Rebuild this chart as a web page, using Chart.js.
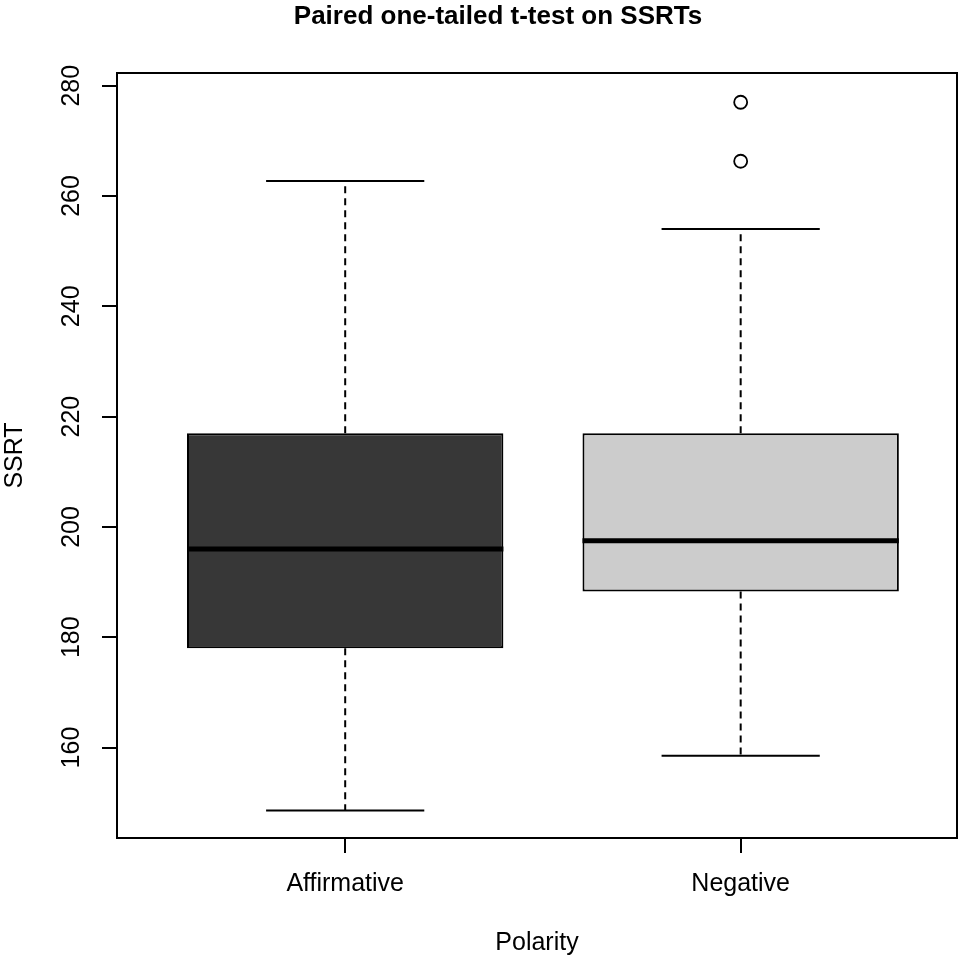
<!DOCTYPE html>
<html>
<head>
<meta charset="utf-8">
<script src="https://cdn.jsdelivr.net/npm/chart.js@4.4.1/dist/chart.umd.min.js"></script>
<style>
html, body { margin: 0; padding: 0; background: #fff; }
canvas { display: block; }
</style>
</head>
<body>
<canvas id="myChart" width="973" height="960"></canvas>
<script>
// box statistics
const categories = ['Affirmative', 'Negative'];
const whiskerLow = [148.6, 158.5];
const lowerQuartile = [178.0, 188.3];
const medians = [196.0, 197.5];
const upperQuartile = [217.0, 217.0];
const whiskerHigh = [262.7, 254.0];
const outliers = [[], [266.3, 277.0]];
const yTicks = [160, 180, 200, 220, 240, 260, 280];
const boxColors = ['#373737', '#cccccc'];

const FONT = "'Liberation Sans', Arial, Helvetica, sans-serif";
const boxHalf = 0.4, capHalf = 0.2;

// boxes sit at 1..n like R's boxplot
var boxes = [], stems = [], caps = [], meds = [], outs = [];
categories.forEach(function (c, i) {
     var x = i + 1;
     boxes.push({ x: x, y: [lowerQuartile[i], upperQuartile[i]] });
     stems.push({ x: x, y: upperQuartile[i] }, { x: x, y: whiskerHigh[i] }, { x: x, y: null },
          { x: x, y: lowerQuartile[i] }, { x: x, y: whiskerLow[i] }, { x: x, y: null });
     caps.push({ x: x - capHalf, y: whiskerHigh[i] }, { x: x + capHalf, y: whiskerHigh[i] }, { x: x, y: null },
          { x: x - capHalf, y: whiskerLow[i] }, { x: x + capHalf, y: whiskerLow[i] }, { x: x, y: null });
     meds.push({ x: x - boxHalf, y: medians[i] }, { x: x + boxHalf, y: medians[i] }, { x: x, y: null });
     outliers[i].forEach(function (v) { outs.push({ x: x, y: v }); });
});

const framePlugin = {
     id: 'frame',
     afterDatasetsDraw(chart) {
          const a = chart.chartArea, ctx = chart.ctx;
          ctx.save();
          ctx.strokeStyle = '#000';
          ctx.lineWidth = 2;
          ctx.strokeRect(a.left, a.top, a.right - a.left, a.bottom - a.top);
          ctx.restore();
     }
};

const titlePlugin = {
     id: 'rtitle',
     afterDraw(chart) {
          const ctx = chart.ctx;
          ctx.save();
          ctx.font = 'bold 26px ' + FONT;
          ctx.fillStyle = '#000';
          ctx.textAlign = 'center';
          ctx.textBaseline = 'alphabetic';
          ctx.fillText('Paired one-tailed t-test on SSRTs', 498, 23.5);
          ctx.restore();
     }
};

new Chart('myChart', {
     type: 'bar',
     data: {
          datasets: [
               {
                    type: 'line', data: outs, showLine: false, order: 0,
                    pointRadius: 6.5, pointBorderWidth: 1.8,
                    pointBackgroundColor: '#fff', pointBorderColor: '#000'
               },
               {
                    type: 'line', data: meds, order: 1, borderColor: '#000',
                    borderWidth: 5, pointRadius: 0, borderCapStyle: 'butt'
               },
               {
                    type: 'line', data: caps, order: 2, borderColor: '#000',
                    borderWidth: 2, pointRadius: 0
               },
               {
                    type: 'line', data: stems, order: 3, borderColor: '#000',
                    borderWidth: 2, pointRadius: 0, borderDash: [7, 5]
               },
               {
                    type: 'bar', data: boxes, order: 5,
                    backgroundColor: boxColors, borderColor: '#000',
                    borderWidth: 2, borderSkipped: false,
                    categoryPercentage: 0.8, barPercentage: 1.0
               }
          ]
     },
     options: {
          responsive: false,
          animation: false,
          events: [],
          layout: { padding: { top: 73, right: 16, left: 0, bottom: 0 } },
          plugins: { legend: { display: false }, tooltip: { enabled: false }, title: { display: false } },
          scales: {
               x: {
                    type: 'linear', min: 0.423, max: 2.547, offset: false,
                    afterBuildTicks: function (scale) {
                         scale.ticks = categories.map(function (c, i) { return { value: i + 1 }; });
                    },
                    afterFit: function (scale) { scale.height = 122; },
                    ticks: {
                         callback: function (v, i) { return categories[i]; },
                         font: { family: FONT, size: 25 }, color: '#000',
                         padding: 16, maxRotation: 0, autoSkip: false
                    },
                    grid: { offset: false, drawOnChartArea: false, drawTicks: true, tickLength: 15, color: '#000', lineWidth: 2 },
                    border: { display: false },
                    title: { display: true, text: 'Polarity', color: '#000', font: { family: FONT, size: 25 }, padding: { top: 0, bottom: 1.5 } }
               },
               y: {
                    type: 'linear', min: 143.6, max: 282.3,
                    afterBuildTicks: function (scale) {
                         scale.ticks = yTicks.map(function (v) { return { value: v }; });
                    },
                    afterFit: function (scale) { scale.width = 117; },
                    ticks: {
                         font: { family: FONT, size: 25 }, color: '#000',
                         minRotation: 90, maxRotation: 90, crossAlign: 'center', padding: 9
                    },
                    grid: { drawOnChartArea: false, drawTicks: true, tickLength: 15, color: '#000', lineWidth: 2 },
                    border: { display: false },
                    title: { display: true, text: 'SSRT', color: '#000', font: { family: FONT, size: 25 }, padding: { top: 0, bottom: 0 } }
               }
          }
     },
     plugins: [framePlugin, titlePlugin]
});
</script>
</body>
</html>
